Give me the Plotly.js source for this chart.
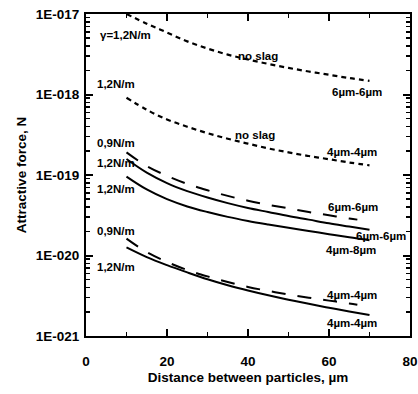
<!DOCTYPE html>
<html>
<head>
<meta charset="utf-8">
<script src="https://cdn.plot.ly/plotly-3.0.1.min.js"></script>
<style>html,body{margin:0;padding:0;background:#fff;}#chart{width:418px;height:394px;}</style>
</head>
<body>
<div id="chart"></div>
<script>
// distances (µm)
const xFull = [10, 15, 20, 25, 30, 35, 40, 45, 50, 55, 60, 65, 70];
const xDash = [10, 15, 20, 25, 30, 35, 40, 45, 50, 55, 60, 65, 67];

// attractive force, N
const noSlag6 = [1.00e-17, 7.59e-18, 5.89e-18, 4.57e-18, 3.72e-18, 3.13e-18, 2.72e-18, 2.40e-18, 2.14e-18, 1.93e-18, 1.76e-18, 1.60e-18, 1.48e-18];
const noSlag4 = [9.12e-19, 6.46e-19, 4.90e-19, 3.98e-19, 3.31e-19, 2.82e-19, 2.45e-19, 2.14e-19, 1.91e-19, 1.72e-19, 1.57e-19, 1.43e-19, 1.32e-19];
const slag09_6 = [1.91e-19, 1.29e-19, 9.77e-20, 7.76e-20, 6.46e-20, 5.50e-20, 4.79e-20, 4.27e-20, 3.85e-20, 3.47e-20, 3.16e-20, 2.88e-20, 2.79e-20];
const slag12_6 = [1.58e-19, 1.07e-19, 7.94e-20, 6.31e-20, 5.25e-20, 4.47e-20, 3.89e-20, 3.47e-20, 3.09e-20, 2.79e-20, 2.51e-20, 2.29e-20, 2.09e-20];
const slag12_48 = [9.55e-20, 6.61e-20, 5.01e-20, 4.07e-20, 3.47e-20, 3.02e-20, 2.69e-20, 2.43e-20, 2.21e-20, 2.02e-20, 1.84e-20, 1.68e-20, 1.55e-20];
const slag09_4 = [1.62e-20, 1.10e-20, 8.32e-21, 6.61e-21, 5.50e-21, 4.68e-21, 4.07e-21, 3.63e-21, 3.27e-21, 2.99e-21, 2.75e-21, 2.54e-21, 2.45e-21];
const slag12_4 = [1.26e-20, 9.55e-21, 7.59e-21, 6.17e-21, 5.07e-21, 4.27e-21, 3.67e-21, 3.20e-21, 2.82e-21, 2.51e-21, 2.24e-21, 2.02e-21, 1.82e-21];

const yTickVals = [1e-21, 1e-20, 1e-19, 1e-18, 1e-17];
const yTickText = ['1E-021', '1E-020', '1E-019', '1E-018', '1E-017'];
const xTickVals = [0, 20, 40, 60, 80];

const FONT = 'Liberation Sans, Arial, sans-serif';
const dotted = {color: '#000', width: 2.2, dash: '5px,4px', shape: 'spline'};
const dashed = {color: '#000', width: 2, dash: '14px,12px', shape: 'spline'};
const solid = {color: '#000', width: 2, shape: 'spline'};

const traces = [
  {x: xFull, y: noSlag6, line: dotted},
  {x: xFull, y: noSlag4, line: dotted},
  {x: xDash, y: slag09_6, line: dashed},
  {x: xFull, y: slag12_6, line: solid},
  {x: xFull, y: slag12_48, line: solid},
  {x: xDash, y: slag09_4, line: dashed},
  {x: xFull, y: slag12_4, line: solid}
].map(t => Object.assign({type: 'scatter', mode: 'lines', hoverinfo: 'skip', showlegend: false}, t));

// labels: [text, x, log10(y), xanchor]
const labels = [
  ['γ=1,2N/m', 3.0, -17.26, 'left'],
  ['1,2N/m', 2.3, -17.87, 'left'],
  ['0,9N/m', 2.3, -18.60, 'left'],
  ['1,2N/m', 2.3, -18.85, 'left'],
  ['1,2N/m', 2.3, -19.17, 'left'],
  ['0,9N/m', 2.3, -19.70, 'left'],
  ['1,2N/m', 2.3, -20.14, 'left'],
  ['no slag', 42.5, -17.52, 'center'],
  ['6µm-6µm', 66.9, -17.97, 'center'],
  ['no slag', 41.7, -18.50, 'center'],
  ['4µm-4µm', 65.6, -18.71, 'center'],
  ['6µm-6µm', 65.9, -19.40, 'center'],
  ['6µm-6µm', 72.8, -19.76, 'center'],
  ['4µm-8µm', 65.4, -19.93, 'center'],
  ['4µm-4µm', 65.6, -20.49, 'center'],
  ['4µm-4µm', 65.6, -20.84, 'center']
];
const annotations = labels.map(l => ({
  text: l[0], x: l[1], y: l[2], xref: 'x', yref: 'y', xanchor: l[3], yanchor: 'middle',
  showarrow: false, font: {family: FONT, size: 11.5, color: '#000', weight: 'bold'}
}));

const yMinor = [];
for (let e = -21; e < -17; e++) for (let d = 2; d <= 9; d++) yMinor.push(d * Math.pow(10, e));

const layout = {
  width: 418, height: 394,
  margin: {l: 86, r: 8, t: 14, b: 58},
  paper_bgcolor: '#fff', plot_bgcolor: '#fff',
  showlegend: false,
  xaxis: {
    range: [0, 80], tickvals: xTickVals, ticks: 'inside', ticklen: 7, tickwidth: 2, tickcolor: '#000',
    ticklabelstandoff: 12,
    showline: true, linewidth: 2, linecolor: '#000', mirror: 'allticks', showgrid: false, zeroline: false,
    tickfont: {family: FONT, size: 13.5, color: '#000', weight: 'bold'},
    minor: {dtick: 10, tick0: 0, ticks: 'inside', ticklen: 4, tickwidth: 1.5, tickcolor: '#000', showgrid: false},
    title: {text: 'Distance between particles, µm', font: {family: FONT, size: 13.5, color: '#000', weight: 'bold'}, standoff: 4}
  },
  yaxis: {
    type: 'log', range: [-21, -17], tickvals: yTickVals, ticktext: yTickText,
    ticks: 'inside', ticklen: 7, tickwidth: 2, tickcolor: '#000',
    ticklabelstandoff: 2,
    showline: true, linewidth: 2, linecolor: '#000', mirror: 'allticks', showgrid: false, zeroline: false,
    tickfont: {family: FONT, size: 13.5, color: '#000', weight: 'bold'},
    minor: {tickmode: 'array', tickvals: yMinor, ticks: 'inside', ticklen: 4, tickwidth: 1.5, tickcolor: '#000', showgrid: false},
    title: {text: 'Attractive force, N', font: {family: FONT, size: 13.5, color: '#000', weight: 'bold'}, standoff: 6}
  },
  annotations: annotations
};

Plotly.newPlot('chart', traces, layout, {displayModeBar: false, staticPlot: true});
</script>
</body>
</html>
